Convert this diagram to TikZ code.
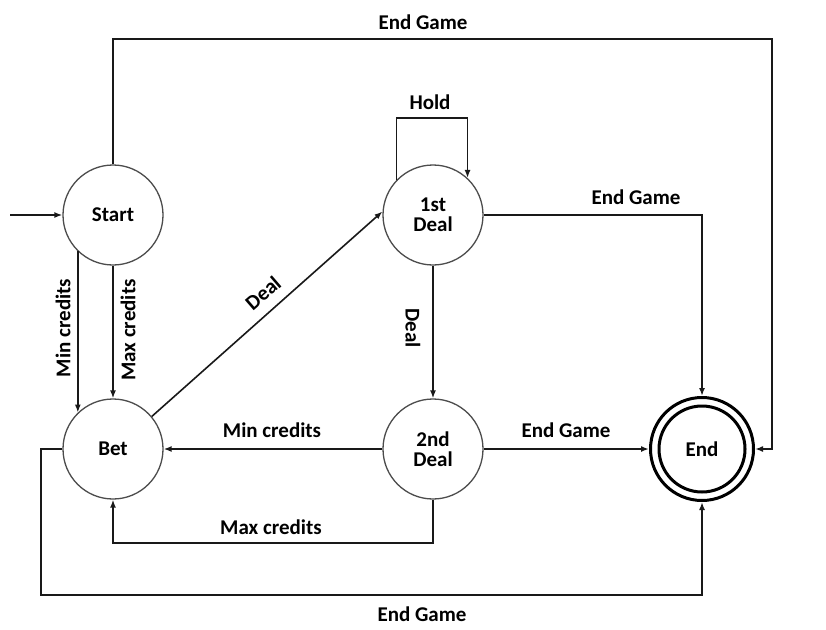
\documentclass[tikz,border=0pt]{standalone}
\usepackage{fontspec}
\setmainfont{Carlito}
\usetikzlibrary{arrows.meta}
\newcommand\dgfont{\bfseries\fontsize{21}{23}\selectfont}
\begin{document}
\begin{tikzpicture}[x=1pt,y=-1pt,
  state/.style={circle,draw=black!70,line width=1.3pt,minimum size=100pt,inner sep=0pt,font=\dgfont,align=center},
  edge/.style={draw=black!90,line width=1.6pt,-{Latex[length=8pt,width=6pt]}},
  lbl/.style={font=\dgfont,inner sep=0pt}]
\useasboundingbox[fill=white] (0,0) rectangle (826,629);
% states
\node[state] (S) at (113,215) {Start};
\node[state] (B) at (113,449) {Bet};
\node[state] (D1) at (433,215) {1st\\[-3pt]Deal};
\node[state] (D2) at (433,449) {2nd\\[-3pt]Deal};
\node[circle,draw=black,line width=3pt,minimum size=103pt,inner sep=0pt] (E) at (702,449) {};
\node[circle,draw=black,line width=3pt,minimum size=86pt,inner sep=0pt,font=\dgfont] (Ein) at (702,449) {End};
% coordinates
\coordinate (in) at (10,215);
\coordinate (t1) at (113,39);
\coordinate (t2) at (772,39);
\coordinate (h) at (433,118);
\coordinate (m) at (433,543);
\coordinate (b1) at (41,595);
% edges
\draw[edge] (in) -- (S.west);
\draw[edge] (S.north) -- (t1) -- (t2) |- (E.east);
\node[lbl] (lt) at (423,22) {End Game};
\draw[edge] (S.-134) -- (B.134);
\node[lbl,rotate=90] (lmin) at (63,328) {Min credits};
\draw[edge] (S.south) -- (B.north);
\node[lbl,rotate=90] (lmax) at (128,330) {Max credits};
\draw[edge] (B.40) -- (D1.176);
\node[lbl,rotate=40.8] (ldeal) at (263,293) {Deal};
\draw[edge] (D1.136) |- (h) -| (D1.47);
\node[lbl] (lhold) at (430,102) {Hold};
\draw[edge] (D1.east) -| (E.north);
\node[lbl] (le1) at (636,197) {End Game};
\draw[edge] (D1.south) -- (D2.north);
\node[lbl,rotate=-90] (ldeal2) at (413,328) {Deal};
\draw[edge] (D2.west) -- (B.east);
\node[lbl] (lmin2) at (272,430) {Min credits};
\draw[edge] (D2.south) -- (m) -| (B.south);
\node[lbl] (lmax2) at (271,527) {Max credits};
\draw[edge] (D2.east) -- (E.west);
\node[lbl] (le2) at (566,430) {End Game};
\draw[edge] (B.west) -| (b1) -| (E.south);
\node[lbl] (le3) at (422,614) {End Game};
\end{tikzpicture}
\end{document}
